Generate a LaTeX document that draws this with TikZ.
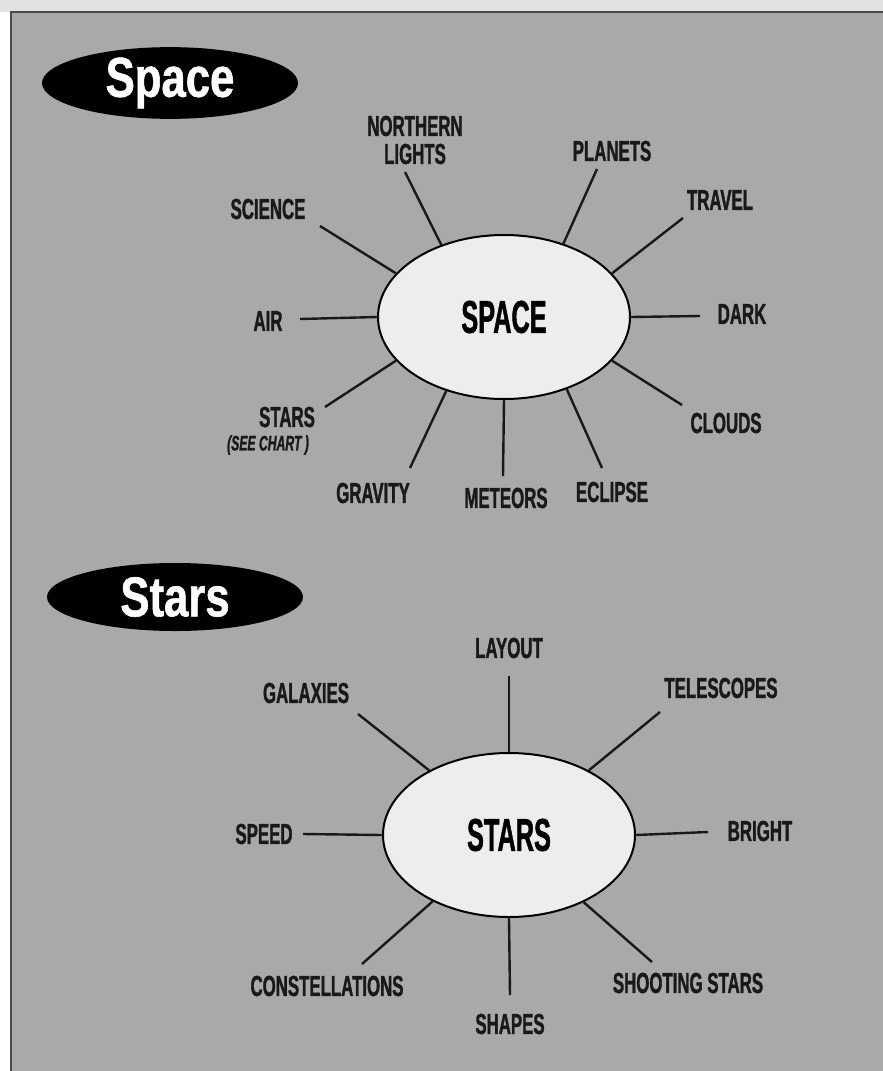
\documentclass[tikz,border=0pt]{standalone}
\usepackage{fontspec}
\setmainfont{Liberation Sans}
\newfontfamily\lblfont{Liberation Sans}[FakeStretch=0.58,FakeBold=1.2]
\newfontfamily\ctrfont{Liberation Sans}[FakeStretch=0.55,FakeBold=1]
\newfontfamily\ttlfont{Liberation Sans}[FakeStretch=0.78,FakeBold=1]
\usetikzlibrary{shapes.geometric}
\definecolor{panel}{HTML}{A9A9A9}
\definecolor{topstrip}{HTML}{E2E2E2}
\definecolor{hubfill}{HTML}{EDEDED}
\definecolor{edge}{HTML}{4A4A4A}
\begin{document}
\begin{tikzpicture}[x=1pt,y=-1pt,
  lbl/.style={font=\lblfont\bfseries\fontsize{29}{28}\selectfont, inner sep=0pt, align=center, text=black!90},
  note/.style={font=\lblfont\bfseries\itshape\fontsize{21}{22}\selectfont, inner sep=0pt, text=black!90},
  hub/.style={ellipse, draw=black, line width=2pt, fill=hubfill, minimum width=252pt, minimum height=164pt, inner sep=0pt, font=\ctrfont\bfseries\fontsize{46}{48}\selectfont},
  ttl/.style={ellipse, fill=black, minimum width=256pt, minimum height=68pt, inner sep=0pt, text=white, font=\ttlfont\bfseries\fontsize{56}{58}\selectfont},
  spoke/.style={line width=2.4pt, draw=black!90}]
\useasboundingbox (0,0) rectangle (883,1071);
\fill[white] (0,0) rectangle (883,1071);
\fill[topstrip] (0,0) rectangle (883,12);
\fill[panel] (11,12) rectangle (883,1071);
\draw[edge, line width=2.5pt] (11,1071) -- (11,12) -- (883,12);

% ---------- Space ----------
\node[ttl] (tspace) at (170,83) {Space};
\node[hub] (space) at (504,317) {SPACE};

\node[lbl] (nl) at (415,140) {NORTHERN\\LIGHTS};
\node[lbl] (planets) at (612,151) {PLANETS};
\node[lbl] (travel) at (720,200) {TRAVEL};
\node[lbl] (science) at (268,209) {SCIENCE};
\node[lbl] (air) at (268,321) {AIR};
\node[lbl] (dark) at (742,314) {DARK};
\node[lbl] (starsl) at (287,417) {STARS};
\node[note] (chart) at (268,445) {(SEE CHART )};
\node[lbl] (clouds) at (726,423) {CLOUDS};
\node[lbl] (gravity) at (373,493) {GRAVITY};
\node[lbl] (meteors) at (506,498) {METEORS};
\node[lbl] (eclipse) at (612,492) {ECLIPSE};

\coordinate (enl) at (405,172);
\coordinate (epl) at (597,169);
\coordinate (etr) at (683,218);
\coordinate (esc) at (320,226);
\coordinate (eair) at (300,319);
\coordinate (edk) at (700,316);
\coordinate (est) at (325,407);
\coordinate (ecl) at (682,405);
\coordinate (egr) at (410,468);
\coordinate (eme) at (503,476);
\coordinate (eec) at (602,468);

\draw[spoke] (space.131) -- (enl);
\draw[spoke] (space.51.5) -- (epl);
\draw[spoke] (space.22.6) -- (etr);
\draw[spoke] (space.158.5) -- (esc);
\draw[spoke] (space.180) -- (eair);
\draw[spoke] (space.0) -- (edk);
\draw[spoke] (space.202.4) -- (est);
\draw[spoke] (space.338) -- (ecl);
\draw[spoke] (space.232.3) -- (egr);
\draw[spoke] (space.270) -- (eme);
\draw[spoke] (space.311) -- (eec);

% ---------- Stars ----------
\node[ttl] (tstars) at (175,597) {Stars};
\node[hub] (stars) at (509,835) {STARS};

\node[lbl] (layout) at (509,648) {LAYOUT};
\node[lbl] (galaxies) at (306,693) {GALAXIES};
\node[lbl] (telescopes) at (721,688) {TELESCOPES};
\node[lbl] (speed) at (264,834) {SPEED};
\node[lbl] (bright) at (760,831) {BRIGHT};
\node[lbl] (const) at (327,986) {CONSTELLATIONS};
\node[lbl] (shapes) at (510,1024) {SHAPES};
\node[lbl] (shooting) at (688,983) {SHOOTING STARS};

\coordinate (ela) at (509,676);
\coordinate (ega) at (358,714);
\coordinate (ete) at (660,712);
\coordinate (esp) at (303,834);
\coordinate (ebr) at (708,832);
\coordinate (eco) at (362,964);
\coordinate (esh) at (510,995);
\coordinate (ess) at (652,962);

\draw[spoke] (stars.90) -- (ela);
\draw[spoke] (stars.141.3) -- (ega);
\draw[spoke] (stars.39.1) -- (ete);
\draw[spoke] (stars.180) -- (esp);
\draw[spoke] (stars.0) -- (ebr);
\draw[spoke] (stars.221) -- (eco);
\draw[spoke] (stars.270) -- (esh);
\draw[spoke] (stars.318.6) -- (ess);
\end{tikzpicture}
\end{document}
